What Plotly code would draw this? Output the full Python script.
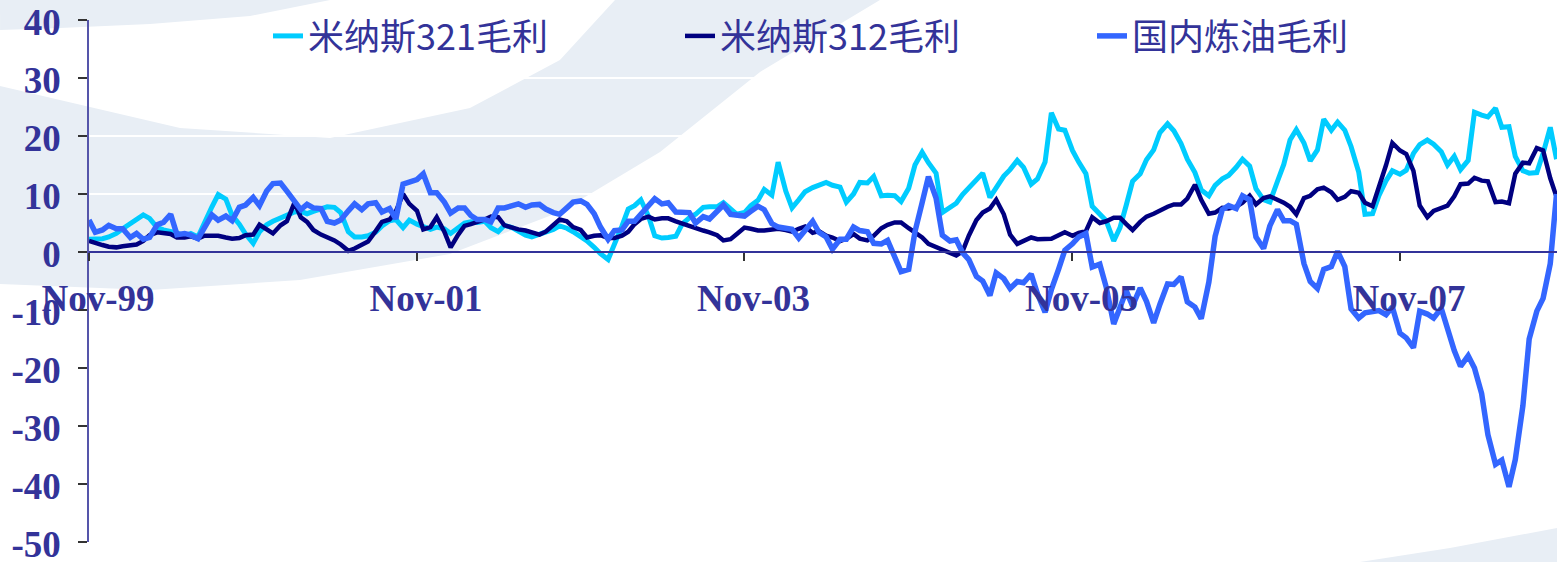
import pandas as pd
import plotly.graph_objects as go

# Semi-monthly observation dates (1st and 15th), Nov-1999 .. Oct-2008
dates = pd.date_range("1999-11-01", periods=216, freq="SMS")

minas321 = [
    2.2, 2.2, 2.3, 2.6, 3.2, 4.0, 4.9, 5.6, 6.4, 5.8, 4.2, 3.8,
    3.5, 3.3, 2.7, 3.2, 2.6, 5.2, 7.8, 9.9, 9.1, 6.3, 4.8, 3.1,
    1.5, 3.5, 4.7, 5.3, 5.9, 6.5, 6.9, 7.0, 6.6, 7.0, 7.4, 7.8,
    7.7, 6.8, 3.5, 2.6, 2.6, 2.8, 3.4, 4.5, 5.4, 5.6, 4.2, 5.5,
    4.8, 4.3, 3.9, 4.3, 4.0, 3.2, 4.1, 5.0, 5.2, 5.1, 5.3, 4.2,
    3.5, 4.6, 4.2, 3.6, 2.9, 2.6, 3.0, 3.4, 3.9, 4.5, 4.1, 3.5,
    2.7, 1.9, 0.8, -0.3, -1.3, 1.1, 4.5, 7.4, 8.0, 9.0, 6.2, 2.8,
    2.4, 2.5, 2.7, 4.8, 5.9, 6.5, 7.7, 7.8, 7.8, 8.5, 7.5, 6.5,
    6.8, 8.0, 8.9, 10.8, 9.8, 15.5, 10.5, 7.6, 9.0, 10.4, 11.1, 11.6,
    12.0, 11.5, 11.2, 8.6, 10.0, 12.0, 11.9, 13.0, 9.7, 9.8, 9.7, 8.7,
    11.0, 15.0, 17.2, 15.4, 13.6, 6.8, 7.7, 8.4, 9.9, 11.1, 12.4, 13.6,
    9.4, 11.2, 13.1, 14.2, 15.8, 14.6, 11.7, 12.6, 15.5, 24.0, 21.2, 21.0,
    17.5, 15.5, 13.5, 7.9, 6.6, 5.4, 1.9, 4.2, 8.1, 12.2, 13.5, 15.9,
    17.6, 20.6, 22.1, 20.9, 18.7, 16.0, 13.7, 10.7, 9.7, 11.5, 12.6, 13.2,
    14.6, 16.0, 14.8, 10.9, 9.0, 8.6, 12.2, 15.1, 19.3, 21.1, 18.8, 15.7,
    17.6, 22.9, 21.0, 22.4, 21.0, 18.2, 13.8, 6.5, 6.6, 9.7, 12.3, 14.0,
    13.4, 14.1, 17.0, 18.5, 19.3, 18.6, 17.3, 15.0, 16.5, 14.2, 15.8, 24.1,
    23.6, 23.3, 24.8, 21.5, 21.6, 16.5, 14.0, 13.6, 13.7, 17.0, 21.5, 16.0,
]

minas312 = [
    1.9, 1.5, 1.2, 0.9, 0.8, 1.0, 1.2, 1.3, 1.9, 2.9, 3.4, 3.3,
    3.1, 2.5, 2.5, 2.7, 2.3, 2.8, 2.9, 2.8, 2.5, 2.3, 2.4, 2.9,
    3.0, 4.7, 3.9, 3.2, 4.6, 5.3, 8.5, 6.0, 5.2, 3.8, 3.0, 2.6,
    2.0, 1.3, 0.2, 0.6, 1.2, 1.8, 3.6, 5.2, 5.6, 7.0, 10.0, 8.3,
    7.1, 3.9, 4.3, 6.0, 3.5, 0.8, 3.0, 4.5, 4.8, 5.1, 5.6, 6.1,
    6.0, 4.6, 4.2, 3.9, 3.7, 3.4, 3.0, 3.5, 4.6, 5.6, 5.3, 4.3,
    3.8, 2.5, 2.8, 2.9, 2.4, 2.4, 2.8, 3.5, 4.8, 5.7, 6.1, 5.6,
    5.8, 5.8, 5.3, 4.9, 4.5, 4.1, 3.7, 3.4, 2.9, 2.0, 2.2, 3.1,
    4.2, 4.0, 3.7, 3.7, 3.9, 4.0, 3.8, 3.5, 4.0, 4.4, 3.3, 3.6,
    2.8, 2.5, 1.9, 2.3, 3.1, 2.3, 2.0, 2.8, 4.1, 4.7, 5.1, 5.1,
    4.1, 3.3, 2.5, 1.4, 0.9, 0.5, -0.2, -0.6, 0.1, 2.8, 5.5, 6.8,
    7.5, 9.0, 6.5, 3.0, 1.4, 1.9, 2.5, 2.2, 2.2, 2.3, 2.9, 3.4,
    2.8, 3.3, 3.6, 6.0, 5.0, 5.3, 5.9, 5.9, 4.8, 3.8, 5.2, 6.1,
    6.6, 7.2, 7.8, 8.2, 8.2, 9.2, 11.6, 9.0, 6.6, 6.8, 7.6, 7.5,
    7.8, 8.5, 9.7, 8.2, 9.3, 9.6, 9.1, 8.5, 7.8, 6.5, 9.3, 9.7,
    10.8, 11.1, 10.3, 9.0, 9.5, 10.5, 10.2, 8.5, 7.9, 11.0, 15.0, 18.8,
    17.5, 16.9, 14.0, 8.0, 6.0, 7.1, 7.7, 8.0, 9.6, 11.7, 11.8, 12.8,
    12.3, 12.2, 8.6, 8.7, 8.4, 13.5, 15.4, 15.3, 17.9, 17.5, 12.7, 9.5,
]

domestic = [
    5.5, 3.4, 3.8, 4.6, 4.0, 4.0, 2.5, 3.2, 2.2, 2.5, 4.7, 5.1,
    6.5, 3.0, 3.2, 2.9, 2.3, 4.2, 6.4, 5.5, 6.2, 5.4, 7.7, 8.1,
    9.4, 8.0, 10.5, 11.8, 11.9, 10.5, 8.7, 7.3, 8.2, 7.6, 7.5, 5.3,
    5.0, 5.5, 7.1, 8.3, 7.3, 8.3, 8.5, 6.9, 7.5, 5.7, 11.7, 12.0,
    12.5, 13.5, 10.2, 10.2, 8.6, 6.7, 7.6, 7.6, 6.3, 5.6, 5.6, 5.2,
    7.6, 7.6, 8.0, 8.3, 7.7, 8.1, 8.2, 7.4, 6.8, 6.5, 7.6, 8.6,
    8.8, 8.2, 6.6, 4.3, 2.2, 3.7, 3.8, 5.3, 5.3, 6.5, 8.2, 9.2,
    8.3, 8.5, 6.9, 6.9, 6.8, 5.0, 6.1, 5.7, 6.9, 8.1, 6.5, 6.4,
    6.2, 7.0, 7.9, 7.3, 4.9, 4.3, 4.1, 3.9, 2.4, 3.7, 5.3, 3.4,
    2.6, 0.5, 2.2, 2.2, 4.3, 3.7, 3.5, 1.5, 1.4, 2.0, -1.0, -3.4,
    -3.0, 3.5, 8.5, 13.0, 9.3, 2.9, 1.9, 2.1, -0.1, -1.3, -4.2, -5.0,
    -7.5, -3.6, -4.6, -6.3, -5.1, -5.3, -3.8, -7.2, -10.4, -6.5, -3.0, 0.3,
    1.4, 2.6, 3.2, -2.6, -2.1, -6.0, -12.4, -9.8, -6.7, -9.3, -6.2, -8.5,
    -12.2, -9.0, -5.5, -5.6, -4.3, -8.6, -9.5, -11.5, -5.2, 2.7, 7.3, 8.0,
    7.5, 9.7, 9.0, 2.6, 0.6, 4.5, 7.3, 5.4, 5.4, 4.8, -2.0, -5.1,
    -6.3, -3.0, -2.5, 0.1, -2.5, -9.8, -11.4, -10.5, -10.3, -10.1, -10.8, -9.5,
    -14.0, -14.8, -16.5, -10.2, -10.7, -11.4, -9.7, -13.4, -17.0, -19.7, -17.9, -20.0,
    -24.4, -31.5, -36.6, -35.9, -40.5, -35.8, -26.5, -15.0, -10.2, -8.0, -2.0, 10.0,
]

series_names = ["米纳斯321毛利", "米纳斯312毛利", "国内炼油毛利"]
x_tick_vals = ["1999-11-01", "2001-11-01", "2003-11-01", "2005-11-01", "2007-11-01"]
x_tick_text = ["Nov-99", "Nov-01", "Nov-03", "Nov-05", "Nov-07"]
y_tick_vals = [-50, -40, -30, -20, -10, 0, 10, 20, 30, 40]
y_tick_text = ["-50", "-40", "-30", "-20", "-10", "0", "10", "20", "30", "40"]

TEXT = "#333399"
tick_font = dict(family="Liberation Serif", size=37, color=TEXT, weight="bold")

# page geometry (px) used only to place the decorative background watermark
L, R, T, B, W, H = 89, 0, 20, 20, 1557, 562
PW, PH = W - L - R, H - T - B


def px_path(points):
    """Closed path through pixel points, expressed in paper coords."""
    pts = [((x - L) / PW, (H - B - y) / PH) for x, y in points]
    d = "M {:.4f},{:.4f}".format(*pts[0])
    for p in pts[1:]:
        d += " L {:.4f},{:.4f}".format(*p)
    return d + " Z"


watermark = [
    # large pale crescent band on the left
    [(0, 86), (60, 100), (180, 128), (330, 138), (470, 108), (560, 60), (615, 0),
     (880, 0), (760, 72), (660, 152), (560, 212), (450, 254), (300, 280),
     (150, 290), (0, 284)],
    # pale band at the very top-left
    [(0, 0), (330, 0), (250, 16), (150, 24), (60, 28), (0, 30)],
    # faint grey sweep at the bottom-right corner
    [(1360, 562), (1450, 548), (1557, 528), (1557, 562)],
]
shapes = [
    dict(type="path", path=px_path(pts), xref="paper", yref="paper",
         fillcolor="#E8EEF5", line=dict(width=0), layer="below")
    for pts in watermark
]

fig = go.Figure()
fig.add_trace(go.Scatter(x=dates, y=minas321, mode="lines", name=series_names[0],
                         line=dict(color="#00CCFF", width=5)))
fig.add_trace(go.Scatter(x=dates, y=minas312, mode="lines", name=series_names[1],
                         line=dict(color="#000080", width=4.5)))
fig.add_trace(go.Scatter(x=dates, y=domestic, mode="lines", name=series_names[2],
                         line=dict(color="#3366FF", width=5.5)))

fig.update_layout(
    width=W, height=H,
    margin=dict(l=L, r=R, t=T, b=B, autoexpand=False),
    paper_bgcolor="white",
    plot_bgcolor="rgba(0,0,0,0)",
    shapes=shapes,
    showlegend=True,
    legend=dict(
        orientation="h", x=(268 - L) / PW, xanchor="left",
        y=1 + (T - 36) / PH, yanchor="middle",
        font=dict(family="Noto Sans CJK SC", size=36, color=TEXT),
        bgcolor="rgba(0,0,0,0)", entrywidth=367, entrywidthmode="pixels",
    ),
    xaxis=dict(
        type="date", range=["1999-11-01", "2008-10-16"],
        anchor="free", position=50 / 90,
        showline=True, linecolor=TEXT, linewidth=1.5,
        ticks="outside", ticklen=8, tickcolor="#333333", tickwidth=1.5,
        tickvals=x_tick_vals, ticktext=x_tick_text, tickfont=tick_font,
        ticklabelstandoff=6, ticklabelshift=9, ticklabeloverflow="allow",
        showgrid=False, zeroline=False,
    ),
    yaxis=dict(
        range=[-50, 40], tickvals=y_tick_vals, ticktext=y_tick_text,
        showline=True, linecolor="#5555AA", linewidth=1.5,
        ticks="outside", ticklen=9, tickcolor="#333333", tickwidth=1.5,
        tickfont=tick_font, ticklabelstandoff=10, ticklabelshift=2,
        ticklabeloverflow="allow",
        showgrid=True, gridcolor="white", gridwidth=1.5, zeroline=False,
    ),
)

fig.write_html("out.html")
